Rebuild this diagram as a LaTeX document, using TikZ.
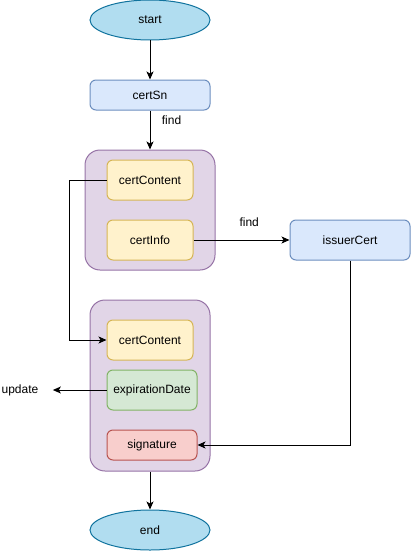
\documentclass[tikz,border=0pt]{standalone}
\usepackage{fontspec}
\setmainfont{Liberation Sans}
\usetikzlibrary{arrows.meta}
\usetikzlibrary{shapes.geometric}
\usetikzlibrary{positioning}

\definecolor{termfill}{HTML}{B1DDF0}
\definecolor{termline}{HTML}{10739E}
\definecolor{bluefill}{HTML}{DAE8FC}
\definecolor{blueline}{HTML}{6C8EBF}
\definecolor{purpfill}{HTML}{E1D5E7}
\definecolor{purpline}{HTML}{9673A6}
\definecolor{yelfill}{HTML}{FFF2CC}
\definecolor{yelline}{HTML}{D6B656}
\definecolor{grnfill}{HTML}{D5E8D4}
\definecolor{grnline}{HTML}{82B366}
\definecolor{redfill}{HTML}{F8CECC}
\definecolor{redline}{HTML}{B85450}

\tikzset{
  term/.style={ellipse, draw=termline, fill=termfill, minimum width=120pt, minimum height=40pt, inner sep=0pt},
  field/.style={draw, rounded corners=6pt, minimum height=40pt, inner sep=0pt},
  group/.style={draw=purpline, fill=purpfill, rounded corners=15pt, minimum width=#1, inner sep=0pt},
}

\begin{document}
\begin{tikzpicture}[x=1pt, y=-1pt, >={Stealth[length=8pt, width=7pt, inset=2pt]}, line width=1pt, font=\fontsize{12}{14}\selectfont]
\useasboundingbox (0,0) rectangle (411,551);

%top
\node[term] (start) at (150,20) {start};
\node[field, draw=blueline, fill=bluefill, minimum width=120pt, minimum height=30pt] (sn) at (150,95) {certSn};

%first cert
\node[group=130pt, minimum height=120pt] (cert) at (150,210) {};
\node[field, draw=yelline, fill=yelfill, minimum width=86pt] (content) at (150,180) {certContent};
\node[field, draw=yelline, fill=yelfill, minimum width=86pt] (info) at (150,240) {certInfo};

\node[field, draw=blueline, fill=bluefill, minimum width=120pt] (issuer) at (350,240) {issuerCert};

%new cert
\node[group=120pt, minimum height=171pt] (newcert) at (150,385.5) {};
\node[field, draw=yelline, fill=yelfill, minimum width=86pt] (newcontent) at (150,340) {certContent};
\node[field, draw=grnline, fill=grnfill, minimum width=90pt] (expdate) at (152,390) {expirationDate};
\node[field, draw=redline, fill=redfill, minimum width=90pt, minimum height=30pt] (sig) at (152,445) {signature};

\node[inner sep=0pt] (upd) at (20,390) {update};
\node[term] (end) at (150,530) {end};

%arrows
\draw[->] (start) -- (sn);
\draw[->] (sn) -- node[pos=0.25, right=8pt] {find} (cert);
\draw[->] (info) -- node[pos=0.58, above=10pt] {find} (issuer);
\draw[->] (content.west) -- ++(-37,0) |- (newcontent.west);
\draw[->, shorten >=14pt] (expdate.west) -- (upd.east);
\draw[->] (issuer.south) |- (sig.east);
\draw[->] (newcert) -- (end);
\end{tikzpicture}
\end{document}
